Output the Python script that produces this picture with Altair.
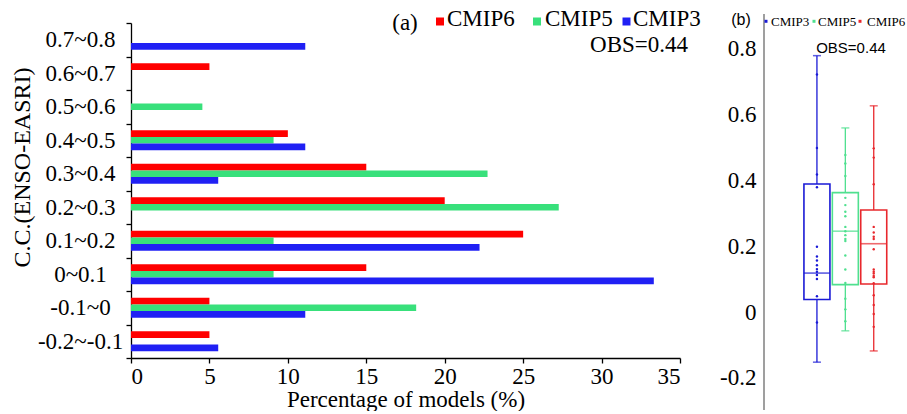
import altair as alt
import pandas as pd

# ---------------- data: panel (a) ----------------
categories = ["0.7~0.8", "0.6~0.7", "0.5~0.6", "0.4~0.5", "0.3~0.4",
              "0.2~0.3", "0.1~0.2", "0~0.1", "-0.1~0", "-0.2~-0.1"]
series = ["CMIP6", "CMIP5", "CMIP3"]
cmip6_pct = [0, 5.0, 0, 10.0, 15.0, 20.0, 25.0, 15.0, 5.0, 5.0]
cmip5_pct = [0, 0, 4.55, 9.09, 22.73, 27.27, 9.09, 9.09, 18.18, 0]
cmip3_pct = [11.11, 0, 0, 11.11, 5.56, 0, 22.22, 33.33, 11.11, 5.56]
bar_colors = ["#ff0000", "#38e07b", "#2020f4"]
x_ticks = [0, 5, 10, 15, 20, 25, 30, 35]

# ---------------- data: panel (b) ----------------
box_models = ["CMIP3", "CMIP5", "CMIP6"]
box_colors = ["#1a1ad6", "#4fe08f", "#e8282d"]
whisker_lo = [-0.152, -0.057, -0.118]
box_q1 = [0.038, 0.083, 0.085]
box_median = [0.118, 0.245, 0.207]
box_q3 = [0.388, 0.362, 0.309]
whisker_hi = [0.777, 0.558, 0.625]
cmip3_vals = [0.72, 0.497, 0.417, 0.378, 0.198, 0.168, 0.156, 0.142, 0.130,
              0.122, 0.112, 0.100, 0.048, -0.032]
cmip5_vals = [0.476, 0.45, 0.412, 0.346, 0.324, 0.304, 0.29, 0.258, 0.245,
              0.233, 0.221, 0.215, 0.171, 0.129, 0.088, 0.04, 0.008, -0.028]
cmip6_vals = [0.496, 0.468, 0.387, 0.258, 0.241, 0.228, 0.221, 0.19, 0.129,
              0.122, 0.117, 0.109, 0.105, 0.087, 0.051, 0.021, -0.006, -0.045]
y_ticks_b = [-0.2, 0, 0.2, 0.4, 0.6, 0.8]

SERIF = "Liberation Serif"
SANS = "Liberation Sans"

one = pd.DataFrame({"k": [0]})


def label(text, x, y, font, size, align="center"):
    return alt.Chart(one).mark_text(text=text, font=font, fontSize=size,
                                    color="black", align=align,
                                    baseline="middle").encode(
        x=alt.value(x), y=alt.value(y))


def swatch(color, x, y, size):
    return alt.Chart(one).mark_square(size=size, color=color, opacity=1,
                                      strokeWidth=0).encode(
        x=alt.value(x), y=alt.value(y))


# ---------------- panel (a) ----------------
rows = []
for s, vals in zip(series, [cmip6_pct, cmip5_pct, cmip3_pct]):
    for c, v in zip(categories, vals):
        if v > 0:
            rows.append({"cat": c, "series": s, "pct": v})
df_a = pd.DataFrame(rows)

bars = alt.Chart(df_a).mark_bar().encode(
    x=alt.X("pct:Q",
            scale=alt.Scale(domain=[0, 35], nice=False, zero=True),
            axis=alt.Axis(values=x_ticks, title="Percentage of models (%)",
                          grid=False, domainColor="black", domainWidth=1.3,
                          tickColor="black", tickSize=5, tickWidth=1.3,
                          labelFont=SERIF, labelFontSize=23, labelColor="black",
                          labelPadding=2, titleFont=SERIF, titleFontSize=23,
                          titleFontWeight="normal", titleColor="black",
                          titlePadding=0)),
    y=alt.Y("cat:N",
            scale=alt.Scale(domain=categories, paddingInner=0, paddingOuter=0),
            axis=alt.Axis(title="C.C.(ENSO-EASRI)", grid=False,
                          domainColor="black", domainWidth=1.3,
                          tickColor="black", tickSize=5, tickWidth=1.3,
                          tickBand="extent",
                          labelFont=SERIF, labelFontSize=23, labelColor="black",
                          labelAlign="center", labelPadding=46,
                          titleFont=SERIF, titleFontSize=24,
                          titleFontWeight="normal", titleColor="black",
                          titleX=-109, titleY=144, titleAlign="center",
                          titleBaseline="middle", titleAngle=270)),
    yOffset=alt.YOffset("series:N",
                        scale=alt.Scale(domain=series, paddingInner=0,
                                        paddingOuter=1)),
    color=alt.Color("series:N",
                    scale=alt.Scale(domain=series, range=bar_colors),
                    legend=None),
)

legend_a = []
for name, col, sx, tx in zip(series, bar_colors, [309, 406, 495.5],
                             [316, 414, 502]):
    legend_a.append(swatch(col, sx, -1.5, 64))
    legend_a.append(label(name, tx, -4, SERIF, 23, align="left"))

left = alt.layer(bars, label("(a)", 274, 0, SERIF, 23),
                 label("OBS=0.44", 508, 22, SERIF, 23),
                 *legend_a).properties(width=549, height=335)

# ---------------- panel (b) ----------------
df_b = pd.DataFrame({"model": box_models, "lo": whisker_lo, "q1": box_q1,
                     "med": box_median, "q3": box_q3, "hi": whisker_hi})
pts = []
for m, vals in zip(box_models, [cmip3_vals, cmip5_vals, cmip6_vals]):
    for v in vals:
        pts.append({"model": m, "v": v})
df_p = pd.DataFrame(pts)

xb = alt.X("model:N",
           scale=alt.Scale(domain=box_models, paddingInner=0,
                           paddingOuter=1, align=0.682),
           axis=None)
yscale = alt.Scale(domain=[-0.297, 0.876], nice=False, zero=False)
yaxis_b = alt.Axis(values=y_ticks_b, labelExpr="'' + datum.value",
                   domain=False, ticks=False, grid=False,
                   labelFont=SERIF, labelFontSize=23, labelColor="black",
                   labelPadding=8, title=None)
colorb = alt.Color("model:N",
                   scale=alt.Scale(domain=box_models, range=box_colors),
                   legend=None)

base_b = alt.Chart(df_b)
whisk = base_b.mark_rule(strokeWidth=1.3).encode(
    x=xb, y=alt.Y("lo:Q", scale=yscale, axis=yaxis_b), y2="hi:Q",
    color=colorb)
cap_lo = base_b.mark_tick(size=8, thickness=1.5).encode(
    x=xb, y=alt.Y("lo:Q", scale=yscale, axis=yaxis_b), color=colorb)
cap_hi = base_b.mark_tick(size=8, thickness=1.5).encode(
    x=xb, y=alt.Y("hi:Q", scale=yscale, axis=yaxis_b), color=colorb)
box = base_b.mark_bar(width=26, fill="white", strokeWidth=1.6).encode(
    x=xb, y=alt.Y("q1:Q", scale=yscale, axis=yaxis_b), y2="q3:Q",
    stroke=alt.Stroke("model:N",
                      scale=alt.Scale(domain=box_models, range=box_colors),
                      legend=None))
med = base_b.mark_tick(size=26, thickness=1.6).encode(
    x=xb, y=alt.Y("med:Q", scale=yscale, axis=yaxis_b), color=colorb)
dots = alt.Chart(df_p).mark_circle(size=6, opacity=1).encode(
    x=xb, y=alt.Y("v:Q", scale=yscale, axis=yaxis_b), color=colorb)

axis_line = alt.Chart(one).mark_rule(color="#7f7f7f", strokeWidth=1.5).encode(
    x=alt.value(0), y=alt.value(-9), y2=alt.value(387))

legend_b = []
for name, col, sx, tx in zip(box_models, box_colors, [2, 50, 96],
                             [7, 54, 103]):
    legend_b.append(swatch(col, sx, -1.7, 9))
    legend_b.append(label(name, tx, -1, SERIF, 13, align="left"))

right = alt.layer(whisk, cap_lo, cap_hi, box, med, dots, axis_line,
                  label("(b)", -23, -3, SANS, 16),
                  label("OBS=0.44", 87, 25, SANS, 15),
                  *legend_b).properties(width=142, height=387)

chart = alt.hconcat(left, right, spacing=84, bounds="flush").resolve_scale(
    color="independent", stroke="independent",
    x="independent", y="independent"
).properties(
    padding={"left": 10, "top": 8, "right": 0, "bottom": 0},
    background="white"
).configure_view(strokeWidth=0).configure_axis(labelFont=SERIF,
                                               titleFont=SERIF)

chart.save("out.html", embed_options={"renderer": "svg", "actions": False})
